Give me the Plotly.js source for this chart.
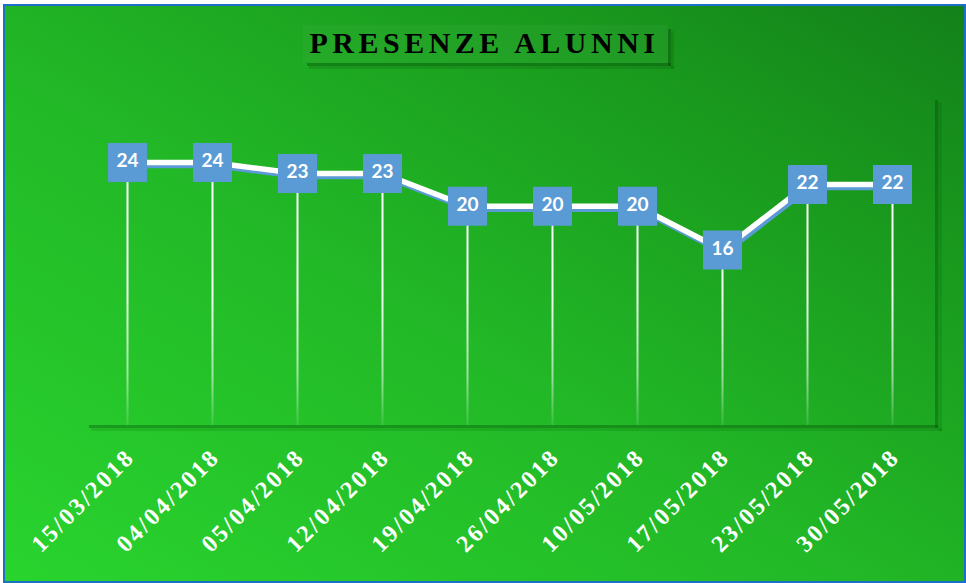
<!DOCTYPE html>
<html><head><meta charset="utf-8">
<script src="https://cdn.plot.ly/plotly-3.0.1.min.js"></script>
<style>
html,body{margin:0;padding:0;background:#fff;width:966px;height:583px;overflow:hidden}
#wrap{position:absolute;left:3px;top:4px;width:963px;height:579px;box-sizing:border-box;border:2px solid #1e6fc8;
  background:linear-gradient(to top right,#29d42e 0%,#22b827 45%,#1a9c1e 75%,#13811a 100%);
  overflow:hidden}
#chart{position:absolute;left:-5px;top:-6px;width:966px;height:583px}
.gtitle{letter-spacing:4.5px}
.xtick text{letter-spacing:2.5px}
.scatterlayer .trace:first-child path.js-line{filter:drop-shadow(2px 3px 0 #5b9bd5)}
.errorbars path{stroke:url(#dropgrad) !important}
</style></head>
<body><div id="wrap"><div id="chart"></div></div>
<script>
const dates = ['15/03/2018','04/04/2018','05/04/2018','12/04/2018','19/04/2018',
               '26/04/2018','10/05/2018','17/05/2018','23/05/2018','30/05/2018'];
const presenze = [24,24,23,23,20,20,20,16,22,22];
const titolo = 'PRESENZE ALUNNI';

const W = 966, H = 583, L = 85, R = 31, T = 97, B = 158;
const PW = W - L - R, PH = H - T - B;
const px = v => (v - L) / PW;
const py = v => (H - B - v) / PH;
function rect(x0, y0, x1, y1, color) {
  return {type:'rect', xref:'paper', yref:'paper', x0:px(x0), x1:px(x1), y0:py(y1), y1:py(y0),
          line:{width:0}, fillcolor:color, layer:'below'};
}
const shapes = [
  // plot area shadow
  rect(935, 100, 938, 428, 'rgba(0,60,0,0.32)'),
  rect(938, 102, 942, 431, 'rgba(0,60,0,0.13)'),
  rect(89, 425, 938, 428, 'rgba(0,60,0,0.32)'),
  rect(91, 428, 942, 431, 'rgba(0,60,0,0.13)'),
  // title box
  rect(303, 25, 668, 63, 'rgba(255,255,255,0.03)'),
  rect(668, 29, 671, 66, 'rgba(0,60,0,0.35)'),
  rect(671, 31, 674, 69, 'rgba(0,60,0,0.15)'),
  rect(307, 63, 671, 66, 'rgba(0,60,0,0.35)'),
  rect(309, 66, 674, 69, 'rgba(0,60,0,0.15)')
];

const traces = [
  {x:dates, y:presenze, type:'scatter', mode:'lines',
   line:{color:'#ffffff', width:5.5}, hoverinfo:'skip'},
  {x:dates, y:presenze, type:'scatter', mode:'markers+text',
   marker:{symbol:'square', size:39, color:'#5b9bd5', line:{width:0}},
   text:presenze.map(String), textposition:'middle center',
   textfont:{family:'Lato, "Open Sans", sans-serif', size:19, color:'#ffffff', weight:700},
   error_y:{type:'data', symmetric:false, array:presenze.map(()=>0), arrayminus:presenze,
            color:'#ffffff', thickness:2, width:0},
   hoverinfo:'skip'}
];

const layout = {
  width:W, height:H,
  margin:{l:L, r:R, t:T, b:B, pad:0},
  paper_bgcolor:'rgba(0,0,0,0)', plot_bgcolor:'rgba(0,0,0,0)',
  showlegend:false, hovermode:false,
  title:{text:titolo, x:484.5/W, xanchor:'center', y:1-42/H, yanchor:'middle',
         font:{family:'"Liberation Serif", serif', size:30, color:'#000000', weight:700}},
  xaxis:{type:'category', showgrid:false, zeroline:false, showline:false, ticks:'',
         tickangle:-45, ticklabelstandoff:12,
         tickfont:{family:'"Liberation Serif", serif', size:24, color:'#ffffff', weight:700},
         range:[-0.5, dates.length-0.5], fixedrange:true},
  yaxis:{range:[0,30], showgrid:false, zeroline:false, showline:false, showticklabels:false,
         ticks:'', fixedrange:true},
  shapes:shapes
};

Plotly.newPlot('chart', traces, layout, {staticPlot:true, displayModeBar:false}).then(gd => {
  const svg = gd.querySelector('svg.main-svg');
  const ns = 'http://www.w3.org/2000/svg';
  let defs = svg.querySelector('defs');
  const g = document.createElementNS(ns, 'linearGradient');
  g.setAttribute('id', 'dropgrad');
  g.setAttribute('gradientUnits', 'userSpaceOnUse');
  g.setAttribute('x1', '0'); g.setAttribute('x2', '0');
  g.setAttribute('y1', '0'); g.setAttribute('y2', String(PH));
  [[0, 1], [0.6, 0.95], [0.85, 0.55], [1, 0.1]].forEach(([o, a]) => {
    const s = document.createElementNS(ns, 'stop');
    s.setAttribute('offset', o);
    s.setAttribute('stop-color', '#ffffff');
    s.setAttribute('stop-opacity', a);
    g.appendChild(s);
  });
  defs.appendChild(g);
});
</script>
</body></html>
